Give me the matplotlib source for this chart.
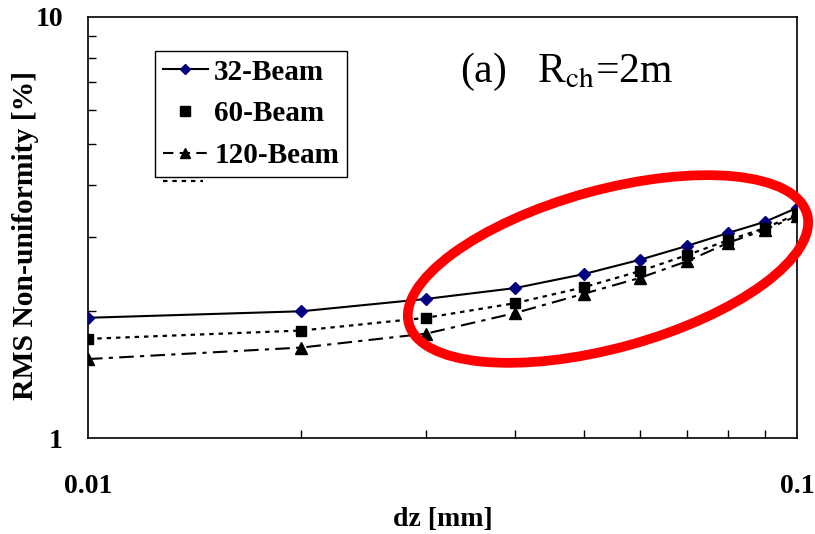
import matplotlib

matplotlib.use("Agg")
import matplotlib.pyplot as plt
from matplotlib.lines import Line2D
from matplotlib.patches import Ellipse
from matplotlib.ticker import FixedLocator, NullFormatter

plt.rcParams["font.family"] = ["Liberation Serif", "DejaVu Serif"]
plt.rcParams["mathtext.fontset"] = "stix"

# values (log-log axes)
dz = [0.01, 0.02, 0.03, 0.04, 0.05, 0.06, 0.07, 0.08, 0.09, 0.1]
beam32 = [1.93, 2.00, 2.14, 2.27, 2.45, 2.65, 2.86, 3.07, 3.26, 3.52]
beam60 = [1.72, 1.80, 1.93, 2.09, 2.28, 2.49, 2.72, 2.95, 3.15, 3.40]
beam120 = [1.54, 1.64, 1.77, 1.98, 2.20, 2.40, 2.63, 2.91, 3.12, 3.37]

x_major = [0.01, 0.1]
x_minor = [0.02, 0.03, 0.04, 0.05, 0.06, 0.07, 0.08, 0.09]
y_major = [1, 10]
y_minor = [2, 3, 4, 5, 6, 7, 8, 9]

fig = plt.figure(figsize=(8.15, 5.34), dpi=100)
ax = fig.add_axes([88 / 815, 96 / 534, 709 / 815, 421 / 534])

ax.plot(dz, beam32, color="black", lw=1.5, marker="D", ms=6.5,
        mfc="#000080", mec="#000080", zorder=3)
ax.plot(dz, beam60, color="black", lw=1.6, ls=(0, (2, 2.2)), marker="s",
        ms=7, mfc="black", mec="black", zorder=3)
ax.plot(dz, beam120, color="black", lw=1.5, ls=(0, (7, 3, 2, 3)), marker="^",
        ms=8, mfc="black", mec="black", zorder=3)

ax.set_xscale("log")
ax.set_yscale("log")
ax.set_xlim(0.01, 0.1)
ax.set_ylim(1, 10)

ax.xaxis.set_major_locator(FixedLocator(x_major))
ax.xaxis.set_minor_locator(FixedLocator(x_minor))
ax.yaxis.set_major_locator(FixedLocator(y_major))
ax.yaxis.set_minor_locator(FixedLocator(y_minor))
ax.xaxis.set_minor_formatter(NullFormatter())
ax.yaxis.set_minor_formatter(NullFormatter())
ax.set_xticklabels(["0.01", "0.1"])
ax.set_yticklabels(["1", "10"])

ax.tick_params(axis="both", which="both", direction="in", top=False, right=False,
               width=1, labelsize=20)
ax.tick_params(axis="x", which="major", length=0, pad=26)
ax.tick_params(axis="y", which="major", length=0, pad=18)
ax.tick_params(axis="both", which="minor", length=6)
for lab in ax.get_xticklabels() + ax.get_yticklabels():
    lab.set_fontweight("bold")

for s in ax.spines.values():
    s.set_linewidth(1.2)

ax.set_xlabel("dz [mm]", fontsize=20, fontweight="bold")
ax.set_ylabel("RMS Non-uniformity [%]", fontsize=21.3, fontweight="bold")
ax.xaxis.set_label_coords(0.5, -0.164)
ax.yaxis.set_label_coords(-0.069, 0.48)

ax.text(0.525, 0.87, r"(a)   R$_{\mathrm{ch}}$=2m", transform=ax.transAxes,
        fontsize=30, ha="left", va="center")

handles = [
    Line2D([], [], color="black", lw=1.5, marker="D", ms=5.5,
           mfc="#000080", mec="#000080"),
    Line2D([], [], ls="none", marker="s", ms=7, color="black"),
    Line2D([], [], color="black", lw=1.5, ls=(0, (5, 3)), marker="^", ms=7),
]
leg = ax.legend(handles, ["32-Beam", "60-Beam", "120-Beam"],
                loc="upper left", bbox_to_anchor=(0.094, 0.92), borderaxespad=0,
                fancybox=False, framealpha=1, edgecolor="black",
                prop={"weight": "bold", "size": 21}, handlelength=1.55,
                handletextpad=0.22, labelspacing=0.5, borderpad=0.27)
leg.get_frame().set_linewidth(1.0)

# stray dotted stub just below the legend box
ax.plot([0.106, 0.162], [0.61, 0.61], transform=ax.transAxes, color="black",
        lw=1.6, ls=(0, (2, 2.2)), clip_on=False)

# red highlight ellipse, in pixel coordinates
ell = Ellipse((608, 265), 413, 158, angle=15.4, transform=None,
              fill=False, edgecolor="#ff0000", lw=7, zorder=5)
fig.add_artist(ell)

fig.savefig("out.png", dpi=100)
